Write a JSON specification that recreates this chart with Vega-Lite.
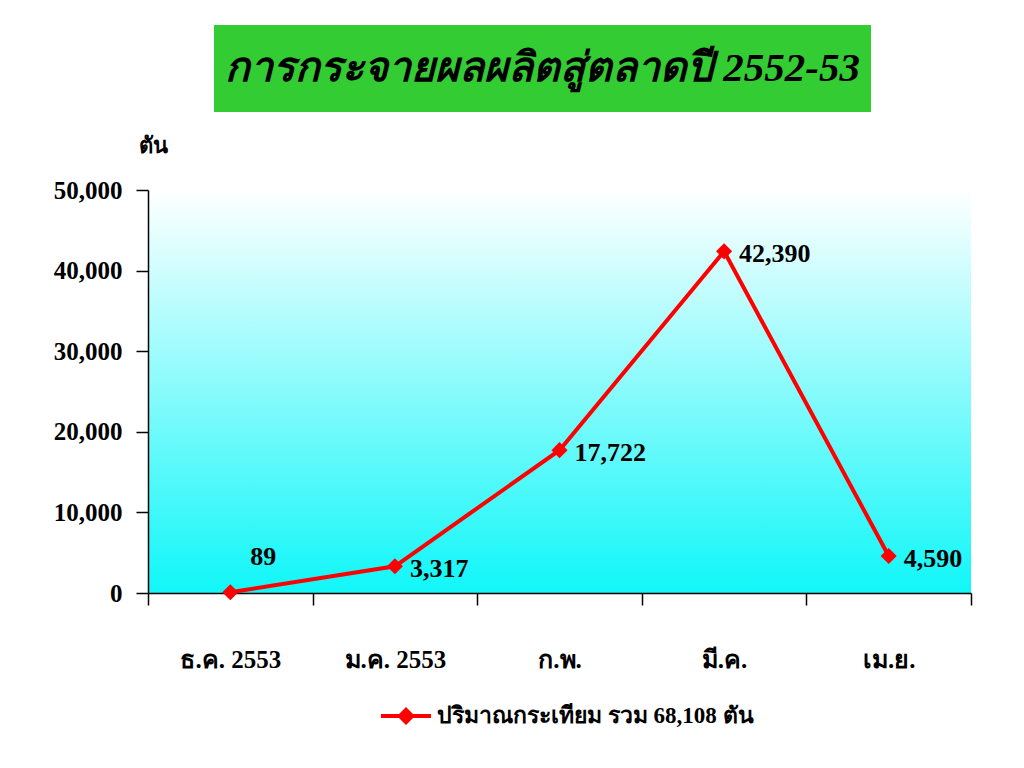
{
  "$schema": "https://vega.github.io/schema/vega-lite/v6.json",
  "background": "white",
  "padding": {"left": 53, "top": 25, "right": 20, "bottom": 10},
  "config": {
    "font": "Liberation Serif",
    "view": {"stroke": null},
    "axis": {"labelFont": "Liberation Serif", "titleFont": "Liberation Serif"}
  },
  "datasets": {
    "main": [
      {"month": "ธ.ค. 2553", "value": 89, "series": "ปริมาณกระเทียม รวม 68,108 ตัน"},
      {"month": "ม.ค. 2553", "value": 3317, "series": "ปริมาณกระเทียม รวม 68,108 ตัน"},
      {"month": "ก.พ.", "value": 17722, "series": "ปริมาณกระเทียม รวม 68,108 ตัน"},
      {"month": "มี.ค.", "value": 42390, "series": "ปริมาณกระเทียม รวม 68,108 ตัน"},
      {"month": "เม.ย.", "value": 4590, "series": "ปริมาณกระเทียม รวม 68,108 ตัน"}
    ],
    "title": [{"t": "การกระจายผลผลิตสู่ตลาดปี 2552-53"}]
  },
  "vconcat": [
    {
      "hconcat": [
        {
          "width": 1,
          "height": 87,
          "data": {"name": "title"},
          "transform": [{"filter": "false"}],
          "mark": {"type": "text"},
          "encoding": {"text": {"field": "t"}}
        },
        {
          "width": 657,
          "height": 87,
          "view": {"fill": "#33cc33", "stroke": null},
          "data": {"name": "title"},
          "mark": {"type": "text", "fontSize": 41, "fontWeight": "bold", "fontStyle": "italic", "color": "black", "font": "Liberation Serif", "baseline": "middle", "align": "center"},
          "encoding": {"text": {"field": "t"}}
        }
      ],
      "spacing": 65,
      "bounds": "flush"
    },
    {
      "width": 823,
      "height": 403,
      "view": {
        "stroke": null,
        "fill": {"gradient": "linear", "x1": 0, "y1": 1, "x2": 0, "y2": 0,
          "stops": [{"offset": 0, "color": "#12f6f8"}, {"offset": 0.08, "color": "#22f7f9"}, {"offset": 1, "color": "#ffffff"}]}
      },
      "data": {"name": "main"},
      "encoding": {
        "x": {"field": "month", "type": "nominal", "sort": null,
          "scale": {"type": "band", "paddingInner": 0, "paddingOuter": 0},
          "axis": {"title": null, "labelAngle": 0, "tickBand": "extent", "tickSize": 12, "tickColor": "black", "domainColor": "black", "domainWidth": 1.5, "tickWidth": 1.5,
            "labelFontSize": 25, "labelFontWeight": "bold", "labelColor": "black", "labelPadding": 42}},
        "y": {"field": "value", "type": "quantitative",
          "scale": {"domain": [0, 50000], "nice": false},
          "axis": {"values": [0, 10000, 20000, 30000, 40000, 50000], "format": ",d", "grid": false, "tickSize": 12, "tickColor": "black", "domainColor": "black", "domainWidth": 1.5, "tickWidth": 1.5,
            "labelFontSize": 25, "labelFontWeight": "bold", "labelColor": "black", "labelPadding": 14,
            "title": "ตัน", "titleAngle": 0, "titleX": -10, "titleY": -38, "titleAlign": "left", "titleBaseline": "alphabetic", "titleFontSize": 22, "titleFontWeight": "bold", "titleColor": "black"}}
      },
      "layer": [
        {
          "mark": {"type": "line", "strokeWidth": 4},
          "encoding": {
            "color": {"field": "series", "type": "nominal", "scale": {"range": ["#ff0000"]},
              "legend": {"title": null, "orient": "none", "legendX": 233, "legendY": 666, "direction": "horizontal",
                "symbolType": "M-1,-0.08L1,-0.08L1,0.08L-1,0.08Z M0,-0.36L0.36,0L0,0.36L-0.36,0Z",
                "symbolSize": 2500, "symbolFillColor": "#ff0000", "symbolStrokeWidth": 0,
                "labelFontSize": 23, "labelFontWeight": "bold", "labelColor": "black", "labelFont": "Liberation Serif", "labelLimit": 600, "labelOffset": 6,
                "encode": {"symbols": {"update": {"fill": {"value": "#ff0000"}, "stroke": {"value": "transparent"}, "strokeWidth": {"value": 0}}}}}}
          }
        },
        {
          "mark": {"type": "point", "shape": "diamond", "filled": true, "size": 260, "color": "#ff0000", "opacity": 1}
        },
        {
          "transform": [{"filter": "datum.value != 89"}],
          "mark": {"type": "text", "align": "left", "baseline": "middle", "dx": 15, "dy": 3, "fontSize": 26, "fontWeight": "bold", "color": "black"},
          "encoding": {"text": {"field": "value", "type": "quantitative", "format": ",d"}}
        },
        {
          "transform": [{"filter": "datum.value == 89"}],
          "mark": {"type": "text", "align": "left", "baseline": "middle", "dx": 20, "dy": -35, "fontSize": 26, "fontWeight": "bold", "color": "black"},
          "encoding": {"text": {"field": "value", "type": "quantitative", "format": ",d"}}
        }
      ]
    }
  ],
  "bounds": "flush",
  "spacing": 165
}
